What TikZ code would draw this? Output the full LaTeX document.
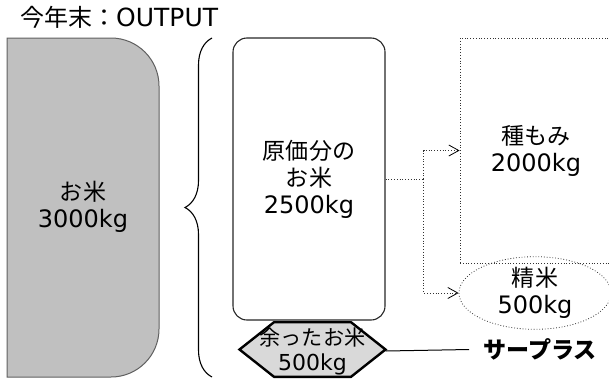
\documentclass[tikz,border=0pt]{standalone}
\usepackage{fontspec}
\setmainfont{DejaVu Sans}
\newfontfamily\jpfont[Scale=0.96]{Noto Sans CJK JP}
\usepackage{xcolor}
\usepackage{tikz}
\usetikzlibrary{arrows.meta, shapes.geometric, positioning, decorations.pathreplacing}

\definecolor{ricegray}{HTML}{C0C0C0}
\definecolor{hexgray}{HTML}{D9D9D9}
\definecolor{edgegray}{HTML}{606060}

\tikzset{
  txt/.style={font=\fontsize{24}{27}\selectfont, align=center, inner sep=0pt},
  dotbox/.style={draw=black!80, dotted, line width=0.8pt},
  flow/.style={draw=black!80, dotted, line width=0.8pt, -{Straight Barb[length=10pt, width=11pt, line width=0.8pt, black]}},
}

\begin{document}
\begin{tikzpicture}[x=1pt, y=-1pt]
  \useasboundingbox (0,0) rectangle (609,383);
  % Title
  \node[txt, anchor=west, font=\fontsize{25}{27}\selectfont] (title) at (20,17) {{\jpfont 今年末：}OUTPUT};
  % Rice at the end of the year
  \draw[fill=ricegray, draw=edgegray, line width=1pt] (7,38) -- (111,38)
    arc[start angle=90, end angle=0, radius=48pt] -- (159,329)
    arc[start angle=0, end angle=-90, radius=48pt] -- (7,377) -- cycle;
  \node[txt] (rice) at (83,207) {{\jpfont お米}\\3000kg};
  % Brace
  \draw[line width=1.1pt, decorate, decoration={brace, amplitude=27pt}] (212,377) -- (212,38);
  % Cost share
  \node[txt, draw=black!85, line width=1.1pt, rounded corners=14pt, minimum width=152pt, minimum height=282pt] (cost) at (309,179) {{\jpfont 原価分の}\\{\jpfont お米}\\2500kg};
  % Left over (hexagon)
  \draw[line width=2.4pt, fill=hexgray] (239.5,349.5) -- (274,322.2) -- (351,322.2) -- (385.5,349.5)
    -- (351,376.8) -- (274,376.8) -- cycle;
  \node[txt, font=\fontsize{22}{25}\selectfont, minimum width=146pt] (surplus) at (312.5,351) {{\jpfont 余ったお米}\\500kg};
  \node[font=\jpfont\bfseries\fontsize{24}{27}\selectfont, inner sep=0pt, inner xsep=14pt] (label) at (540,349.5) {サープラス};
  \draw[line width=1pt] (surplus.east) -- (label.west);
  % Uses
  \node[txt, dotbox, minimum width=152pt, minimum height=225pt] (seed) at (536,150.5) {{\jpfont 種もみ}\\2000kg};
  \node[txt, dotbox, ellipse, minimum width=152pt, minimum height=57pt] (polished) at (535,293) {{\jpfont 精米}\\500kg};
  \coordinate (split) at ([xshift=38pt]cost.east);
  \draw[dotbox] (cost.east) -- (split);
  \draw[flow] (split) |- (seed.west);
  \draw[flow] (split) |- (polished.west);
\end{tikzpicture}
\end{document}
